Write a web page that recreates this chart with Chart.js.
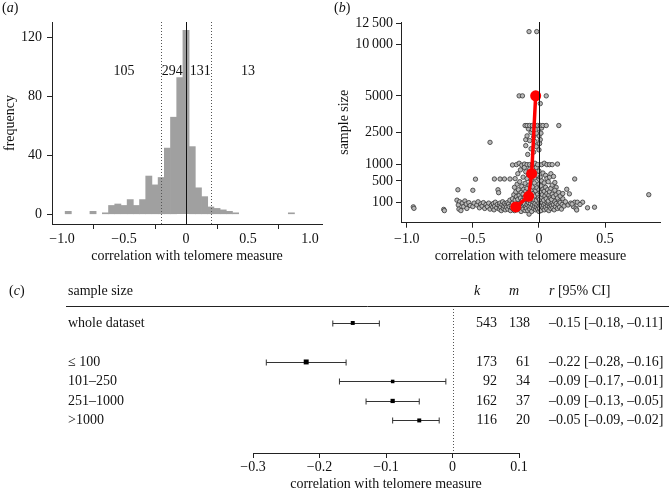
<!DOCTYPE html>
<html><head><meta charset="utf-8">
<script src="https://cdn.jsdelivr.net/npm/chart.js@4/dist/chart.umd.min.js"></script>
<style>
html,body{margin:0;padding:0;background:#fff;}
#wrap{position:relative;width:669px;height:494px;overflow:hidden;background:#fff;}
canvas{position:absolute;}
.lab{position:absolute;font-family:'Liberation Serif',serif;font-size:14px;color:#111;line-height:16px;}
</style></head><body>
<div id="wrap">
<canvas id="ca" width="330" height="270" style="left:0px;top:0px"></canvas>
<canvas id="cb" width="339" height="270" style="left:330px;top:0px"></canvas>
<canvas id="cc" width="669" height="224" style="left:0px;top:270px"></canvas>
<div class="lab" style="left:2px;top:0px">(<i>a</i>)</div>
<div class="lab" style="left:334px;top:0px">(<i>b</i>)</div>
<div class="lab" style="left:9px;top:283px">(<i>c</i>)</div>
</div>
<script>
// ---------- panel (a): histogram ----------
const histCenters = [-0.95,-0.75,-0.65,-0.6,-0.55,-0.5,-0.45,-0.4,-0.35,-0.3,-0.25,-0.2,-0.15,-0.1,-0.05,0,0.05,0.1,0.15,0.2,0.25,0.3,0.35,0.4,0.85];
const histCounts  = [2,2,1,6,7,6,10,6,10,26,20,25,45,66,93,125,46,18,12,5,4,3,2,1,1];
const regionCounts = ['105','294','131','13'];
const regionLabelX = [-0.5,-0.11,0.115,0.5];
const regionLabelY = 97;
const cutoffs = [-0.2, 0.2];
const histXTicks = [-1,-0.5,0,0.5,1];
const histYTicks = [0,40,80,120];

// ---------- panel (b): sample size vs correlation ----------
const scatterR = [
 -0.95,-0.945,-0.72,-0.715,
 -0.613,-0.62,-0.6,-0.61,-0.605,-0.59,-0.58,-0.57,-0.56,-0.55,-0.545,-0.53,-0.52,
 -0.5,-0.48,-0.37,
 -0.5,-0.49,-0.47,-0.46,-0.45,-0.44,-0.43,-0.42,-0.41,-0.4,-0.39,-0.38,-0.37,-0.36,-0.35,
 -0.345,-0.34,-0.335,-0.33,-0.32,-0.315,-0.31,-0.305,-0.3,-0.3,-0.295,-0.29,-0.285,-0.28,-0.275,-0.27,-0.265,-0.26,-0.255,-0.25,-0.245,-0.24,-0.235,-0.23,-0.225,-0.22,-0.215,-0.21,-0.205,-0.2,
 -0.337,-0.294,-0.261,-0.219,-0.2,
 -0.195,-0.19,-0.185,-0.18,-0.175,-0.17,-0.165,-0.16,-0.155,-0.15,-0.145,-0.14,-0.135,-0.13,-0.125,-0.12,-0.115,-0.11,-0.105,-0.1,
 -0.2,-0.19,-0.185,-0.18,-0.175,-0.17,-0.165,-0.16,-0.155,-0.15,-0.145,-0.14,-0.135,-0.13,-0.125,-0.12,-0.115,-0.11,-0.105,-0.1,-0.1,
 -0.17,-0.15,-0.13,-0.11,-0.16,-0.14,-0.12,-0.1,-0.18,-0.11,
 -0.095,-0.09,-0.085,-0.08,-0.075,-0.075,-0.07,-0.065,-0.06,-0.055,-0.05,-0.045,-0.04,-0.035,-0.03,-0.025,-0.02,-0.015,-0.01,-0.005,0,0,
 -0.095,-0.09,-0.085,-0.08,-0.075,-0.07,-0.065,-0.06,-0.055,-0.05,-0.045,-0.04,-0.035,-0.03,-0.025,-0.02,-0.015,-0.01,-0.005,0,0,
 -0.09,-0.08,-0.07,-0.06,-0.05,-0.04,-0.03,-0.02,-0.01,0,0,-0.09,-0.07,-0.05,-0.03,-0.01,
 -0.1,-0.085,-0.06,-0.04,-0.02,0,0.005,-0.1,-0.07,-0.03,0.01,-0.09,-0.04,0,0.015,-0.06,-0.02,-0.08,-0.05,0,0.02,
 -0.105,-0.09,-0.07,-0.05,-0.03,-0.01,0.01,0.03,0.055,0.15,
 -0.15,-0.125,-0.03,0.055,0.01,-0.075,-0.017,
 0.005,0.01,0.015,0.02,0.025,0.03,0.035,0.04,0.045,0.05,0.055,0.06,0.065,0.07,0.075,0.08,0.085,0.09,0.095,0.1,
 0.005,0.01,0.015,0.02,0.025,0.03,0.035,0.04,0.045,0.05,0.055,0.06,0.065,0.07,0.075,0.08,0.085,0.09,0.095,0.1,
 0.01,0.02,0.03,0.04,0.05,0.06,0.07,0.08,0.02,0.04,0.06,0.08,0.1,0.14,0.09,0.11,0.13,
 0.105,0.11,0.115,0.12,0.125,0.13,0.14,0.145,0.15,0.155,0.16,0.17,0.175,0.18,0.19,0.2,0.11,0.12,0.13,0.14,0.15,0.16,0.18,0.1,0.12,0.21,0.23,0.27,
 0.22,0.24,0.26,0.27,0.28,0.285,0.29,0.33,0.31,0.367,0.42,0.25,0.83
];
const scatterN = [
 58,46,38,30,
 300,130,110,75,40,30,95,60,120,85,45,100,70,
 290,545,1960,
 60,95,75,110,50,85,65,100,45,80,60,95,40,70,55,
 90,35,65,105,50,80,300,245,40,70,95,55,30,80,110,45,65,90,35,75,55,100,40,85,60,130,30,70,50,95,
 550,550,550,550,987,
 40,65,30,85,50,110,35,70,95,45,60,80,25,105,55,40,75,90,30,60,
 150,210,350,130,260,180,420,140,300,200,480,160,250,370,130,220,310,170,440,270,140,
 1000,1050,980,1020,700,820,600,760,560,900,
 45,80,30,100,12,60,40,90,55,25,75,110,45,65,90,35,55,80,40,100,60,25,
 190,330,150,240,400,130,210,290,170,360,230,140,450,190,280,130,340,220,160,300,420,
 560,680,850,520,620,760,580,900,650,540,780,1000,1000,1000,1050,1000,
 1800,1400,1650,1500,1750,1600,1900,2100,2050,2000,2100,2300,2250,2300,2450,2500,2450,2700,2650,2700,2750,
 2900,2900,2900,2900,2900,2900,2900,2900,2900,2900,
 5000,5000,5000,5000,4400,11500,11500,
 45,85,30,65,100,50,75,35,90,55,110,40,70,95,30,60,85,45,70,100,
 140,250,380,170,210,310,130,270,190,350,150,230,300,120,200,260,160,330,140,220,
 600,500,720,450,650,560,480,600,1000,1050,1000,1000,1000,1020,700,620,350,
 50,80,35,110,60,90,45,75,130,55,100,40,80,150,65,110,180,290,210,160,250,190,230,400,460,310,225,550,
 75,95,60,105,46,34,105,105,80,50,55,85,211
];
const redR = [-0.175,-0.078,-0.055,-0.025];
const redN = [57,185,700,5000];
const sizeTicks = [100,500,1000,2500,5000,10000,12500];
const sizeTickLabels = ['100','500','1000','2500','5000','10\u2009000','12\u2009500'];
const corrTicksB = [-1,-0.5,0,0.5];

// ---------- panel (c): forest plot ----------
const forestLabels = ['whole dataset','\u2264 100','101\u2013250','251\u20131000','>1000'];
const forestK   = [543,173,92,162,116];
const forestM   = [138,61,34,37,20];
const forestEst = [-0.15,-0.22,-0.09,-0.09,-0.05];
const forestLo  = [-0.18,-0.28,-0.17,-0.13,-0.09];
const forestHi  = [-0.11,-0.16,-0.01,-0.05,-0.02];
const forestXTicks = [-0.3,-0.2,-0.1,0,0.1];

// ---------- common ----------
Chart.defaults.font.family = "'Liberation Serif', serif";
Chart.defaults.font.size = 14;
Chart.defaults.color = '#111';
const AX = '#222';
function fmtAxis(v){ if (Math.abs(v) < 1e-9) return '0'; return (v < 0 ? '\u2212' : '') + Math.abs(v).toFixed(1); }
function fmtR(v){ return (v < 0 ? '\u2013' : '') + Math.abs(v).toFixed(2); }
function axisBase(){
  return {
    grid:{display:true, drawOnChartArea:false, drawTicks:true, tickLength:5, color:AX, lineWidth:1},
    border:{display:true, color:AX, width:1}
  };
}
const baseOpts = {responsive:false, animation:false, events:[], plugins:{legend:{display:false}, tooltip:{enabled:false}}};

// ---------- chart (a) ----------
const histPlugin = {
  id:'histRefs',
  afterDatasetsDraw(chart){
    const {ctx, chartArea:{top,bottom}, scales:{x,y}} = chart;
    ctx.save();
    ctx.lineWidth = 1;
    ctx.strokeStyle = '#111';
    const x0 = Math.round(x.getPixelForValue(0)) + 0.5;
    ctx.beginPath(); ctx.moveTo(x0, top); ctx.lineTo(x0, bottom); ctx.stroke();
    ctx.strokeStyle = '#555'; ctx.setLineDash([1,2]);
    cutoffs.forEach(c => { const px = Math.round(x.getPixelForValue(c)) + 0.5; ctx.beginPath(); ctx.moveTo(px, top); ctx.lineTo(px, bottom); ctx.stroke(); });
    ctx.setLineDash([]);
    ctx.fillStyle = '#111'; ctx.font = "14px 'Liberation Serif'"; ctx.textAlign = 'center'; ctx.textBaseline = 'middle';
    regionCounts.forEach((t,i) => ctx.fillText(t, x.getPixelForValue(regionLabelX[i]), y.getPixelForValue(regionLabelY)));
    ctx.restore();
  }
};
new Chart(document.getElementById('ca'), {
  type:'bar',
  data:{datasets:[{data: histCenters.map((c,i)=>({x:c, y:histCounts[i]})), backgroundColor:'#a0a0a0', borderWidth:0, barPercentage:1, categoryPercentage:1}]},
  options:Object.assign({}, baseOpts, {
    layout:{padding:{left:0, right:8, top:22, bottom:0}},
    scales:{
      x:Object.assign(axisBase(), {type:'linear', min:-1.081, max:1.097, offset:false,
        afterBuildTicks:s=>{ s.ticks = histXTicks.map(v=>({value:v})); },
        afterFit:s=>{ s.height = 46; },
        ticks:{padding:2, maxRotation:0, autoSkip:false, callback:v=>fmtAxis(v)},
        title:{display:true, text:'correlation with telomere measure', padding:{top:0, bottom:5.6}}}),
      y:Object.assign(axisBase(), {type:'linear', min:-6.6, max:130.7,
        afterBuildTicks:s=>{ s.ticks = histYTicks.map(v=>({value:v})); },
        afterFit:s=>{ s.width = 52; },
        ticks:{padding:5, callback:v=>String(v)},
        title:{display:true, text:'frequency', padding:{top:1.6, bottom:0}}})
    }
  }),
  plugins:[histPlugin]
});

// ---------- chart (b) ----------
const zeroLinePlugin = {
  id:'zeroLine',
  afterDatasetsDraw(chart){
    const {ctx, chartArea:{top,bottom}, scales:{x}} = chart;
    ctx.save(); ctx.lineWidth = 1; ctx.strokeStyle = '#111';
    const x0 = Math.round(x.getPixelForValue(0)) + 0.5;
    ctx.beginPath(); ctx.moveTo(x0, top); ctx.lineTo(x0, bottom); ctx.stroke();
    ctx.restore();
  }
};
new Chart(document.getElementById('cb'), {
  type:'scatter',
  data:{datasets:[
    {type:'line', data: redR.map((r,i)=>({x:r, y:Math.sqrt(redN[i])})), showLine:true, borderColor:'#ff0000', borderWidth:3.5,
     pointRadius:5.5, pointBackgroundColor:'#ff0000', pointBorderWidth:0, fill:false, order:0},
    {data: scatterR.map((r,i)=>({x:r, y:Math.sqrt(scatterN[i])})), pointRadius:2.2, pointBackgroundColor:'#b8b8b8',
     pointBorderColor:'#333', pointBorderWidth:0.8, order:1}
  ]},
  options:Object.assign({}, baseOpts, {
    layout:{padding:{left:0, right:9, top:22, bottom:0}},
    scales:{
      x:Object.assign(axisBase(), {type:'linear', min:-1.043, max:0.915,
        afterBuildTicks:s=>{ s.ticks = corrTicksB.map(v=>({value:v})); },
        afterFit:s=>{ s.height = 47.3; },
        ticks:{padding:3, maxRotation:0, autoSkip:false, callback:v=>fmtAxis(v)},
        title:{display:true, text:'correlation with telomere measure', padding:{top:0, bottom:5.6}}}),
      y:Object.assign(axisBase(), {type:'linear', min:-1.4, max:112.7,
        afterBuildTicks:s=>{ s.ticks = sizeTicks.map(v=>({value:Math.sqrt(v)})); },
        afterFit:s=>{ s.width = 71; },
        ticks:{padding:3, autoSkip:false, callback:(v,i)=>sizeTickLabels[i]},
        title:{display:true, text:'sample size', padding:{top:5.6, bottom:0}}})
    }
  }),
  plugins:[zeroLinePlugin]
});

// ---------- chart (c) ----------
const rowOf = i => (i === 0 ? 0 : i + 1);
const forestPlugin = {
  id:'forest',
  beforeDatasetsDraw(chart){
    const {ctx, chartArea:{top,bottom}, scales:{x,y}} = chart;
    ctx.save(); ctx.lineWidth = 1;
    ctx.strokeStyle = '#555'; ctx.setLineDash([1,2]);
    const x0 = Math.round(x.getPixelForValue(0)) + 0.5;
    ctx.beginPath(); ctx.moveTo(x0, top); ctx.lineTo(x0, bottom); ctx.stroke();
    ctx.setLineDash([]); ctx.strokeStyle = '#333';
    forestEst.forEach((e,i) => {
      const py = Math.round(y.getPixelForValue(rowOf(i))) + 0.5;
      const a = x.getPixelForValue(forestLo[i]), b = x.getPixelForValue(forestHi[i]);
      ctx.beginPath();
      ctx.moveTo(a, py); ctx.lineTo(b, py);
      ctx.moveTo(a, py-3); ctx.lineTo(a, py+3);
      ctx.moveTo(b, py-3); ctx.lineTo(b, py+3);
      ctx.stroke();
    });
    ctx.restore();
  },
  afterDraw(chart){
    const {ctx, chartArea:{top}, scales:{y}} = chart;
    ctx.save();
    ctx.strokeStyle = '#222'; ctx.lineWidth = 1;
    const ly = Math.round(top) + 0.5;
    ctx.beginPath(); ctx.moveTo(66, ly); ctx.lineTo(669, ly); ctx.stroke();
    ctx.fillStyle = '#111'; ctx.textBaseline = 'middle';
    const hy = top - 15;
    const reg = "14px 'Liberation Serif'", ital = "italic 14px 'Liberation Serif'";
    ctx.font = reg; ctx.textAlign = 'left';
    ctx.fillText('sample size', 68, hy);
    ctx.font = ital;
    ctx.fillText('k', 474, hy);
    ctx.fillText('m', 509, hy);
    ctx.fillText('r', 549, hy);
    const rw = ctx.measureText('r').width;
    ctx.font = reg;
    ctx.fillText(' [95% CI]', 549 + rw, hy);
    forestLabels.forEach((lab,i) => {
      const py = y.getPixelForValue(rowOf(i));
      ctx.textAlign = 'left';
      ctx.fillText(lab, 68, py);
      ctx.textAlign = 'right';
      ctx.fillText(String(forestK[i]), 497, py);
      ctx.fillText(String(forestM[i]), 530, py);
      ctx.textAlign = 'left';
      ctx.fillText(fmtR(forestEst[i]) + ' [' + fmtR(forestLo[i]) + ', ' + fmtR(forestHi[i]) + ']', 549, py);
    });
    ctx.restore();
  }
};
new Chart(document.getElementById('cc'), {
  type:'scatter',
  data:{datasets:[{data: forestEst.map((e,i)=>({x:e, y:rowOf(i)})), pointStyle:'rect', pointRadius:[2.8,3.5,2.5,3.0,2.8],
    pointBackgroundColor:'#000', pointBorderWidth:0}]},
  options:Object.assign({}, baseOpts, {
    layout:{padding:{left:253, right:150, top:36, bottom:0}},
    scales:{
      x:Object.assign(axisBase(), {type:'linear', min:-0.3, max:0.1,
        afterBuildTicks:s=>{ s.ticks = forestXTicks.map(v=>({value:v})); },
        afterFit:s=>{ s.height = 41; },
        ticks:{padding:1, maxRotation:0, autoSkip:false, callback:v=>fmtAxis(v)},
        title:{display:true, text:'correlation with telomere measure', padding:{top:0, bottom:1.6}}}),
      y:{type:'linear', min:-0.87, max:6.67, reverse:true, display:false}
    }
  }),
  plugins:[forestPlugin]
});
</script>
</body></html>
